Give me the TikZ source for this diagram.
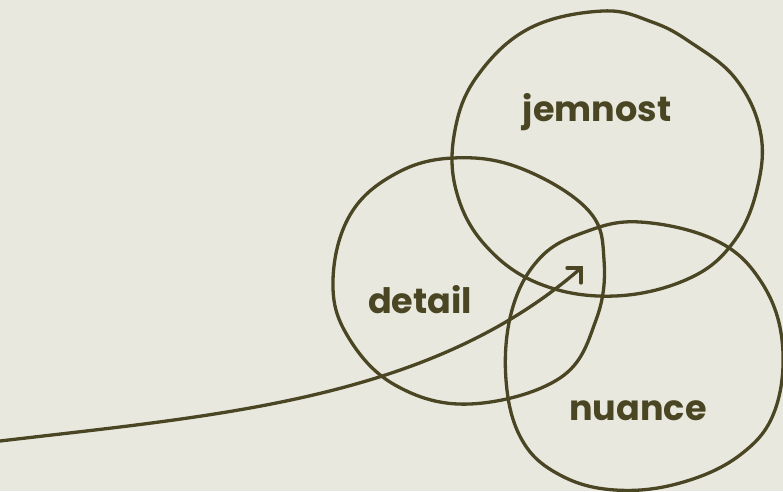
\documentclass[tikz,border=0pt]{standalone}
\usepackage{fontspec}
\setmainfont{Poppins}
\usetikzlibrary{arrows.meta}
\definecolor{bg}{HTML}{E8E8DF}
\definecolor{ink}{HTML}{4A4522}
\tikzset{
  ring/.style={draw=ink, line width=3.3pt, line cap=round, line join=round},
  lbl/.style={text=ink, font=\fontsize{35}{40}\selectfont\bfseries, inner sep=0pt, anchor=base},
  flow/.style={draw=ink, line width=3.3pt, line cap=round}
}
\begin{document}
\begin{tikzpicture}[x=1pt,y=-1pt]
\fill[bg] (0,0) rectangle (783,491);
\useasboundingbox (0,0) rectangle (783,491);
% jemnost circle
\draw[ring] plot[smooth cycle, tension=0.65] coordinates {
 (603,11) (652,22) (690,42) (735,78) (760,130) (758,185) (735,240) (690,278) (615,296) (540,284) (485,245) (456,190) (455,130) (478,75) (530,28)};
% detail circle
\draw[ring] plot[smooth cycle, tension=0.65] coordinates {
 (453,158) (520,168) (588,210) (604,260) (596,320) (560,378) (470,404) (395,385) (347,335) (333,280) (350,215) (395,174)};
% nuance circle
\draw[ring] plot[smooth cycle, tension=0.65] coordinates {
 (640,222) (715,240) (760,280) (782,340) (775,410) (740,455) (680,483) (615,490) (560,475) (522,440) (506,380) (512,310) (540,258) (585,232)};
% labels
\node[lbl] (jem) at (597,121) {jemnost};
\node[lbl] (det) at (420,313) {detail};
\node[lbl] (nua) at (638,420) {nuance};
% arrow
\coordinate (start) at (0,441);
\coordinate (tip) at (581,268);
\draw[flow] (start) .. controls (220,415) and (430,400) .. (tip);
\draw[flow] (567,268) -- (tip) -- (581,283);
\end{tikzpicture}
\end{document}
